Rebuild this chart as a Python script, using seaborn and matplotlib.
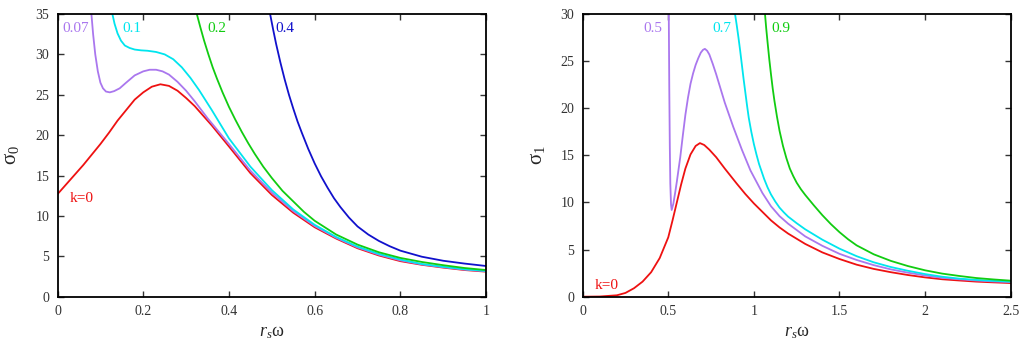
import matplotlib
matplotlib.use('Agg')
import pandas as pd
import seaborn as sns
from matplotlib import pyplot as plt

# ---- left panel: sigma_0 vs r_s*omega ----
l_k000_x = [0, 0.02, 0.04, 0.06, 0.08, 0.1, 0.12, 0.14, 0.16, 0.18, 0.2, 0.22, 0.24, 0.26, 0.28, 0.3,
            0.32, 0.34, 0.36, 0.38, 0.4, 0.45, 0.5, 0.55, 0.6, 0.65, 0.7, 0.75, 0.8, 0.85, 0.9, 0.95, 1.0]
l_k000_y = [12.7, 13.9, 15.1, 16.3, 17.6, 18.9, 20.3, 21.8, 23.1, 24.4, 25.3, 26.0, 26.3, 26.1, 25.5, 24.6,
            23.6, 22.4, 21.2, 19.9, 18.6, 15.3, 12.6, 10.4, 8.6, 7.2, 6.0, 5.1, 4.4, 3.95, 3.6, 3.3, 3.1]

l_k007_x = [0.079, 0.083, 0.088, 0.094, 0.1, 0.106, 0.113, 0.122, 0.132, 0.145, 0.16, 0.18, 0.2, 0.215,
            0.23, 0.245, 0.26, 0.28, 0.3, 0.32, 0.35, 0.4, 0.45, 0.5, 0.55, 0.6, 0.65, 0.7, 0.75, 0.8,
            0.85, 0.9, 0.95, 1.0]
l_k007_y = [35, 32.5, 30.0, 27.9, 26.5, 25.8, 25.4, 25.3, 25.45, 25.8, 26.5, 27.4, 27.9, 28.1,
            28.1, 27.9, 27.5, 26.6, 25.5, 24.2, 22.1, 18.9, 15.6, 12.9, 10.6, 8.75, 7.3, 6.1, 5.2, 4.5,
            4.0, 3.65, 3.35, 3.15]

l_k010_x = [0.128, 0.133, 0.14, 0.148, 0.157, 0.168, 0.18, 0.195, 0.21, 0.23, 0.25, 0.27, 0.29, 0.31,
            0.33, 0.36, 0.4, 0.45, 0.5, 0.55, 0.6, 0.65, 0.7, 0.75, 0.8, 0.85, 0.9, 0.95, 1.0]
l_k010_y = [35, 33.8, 32.6, 31.7, 31.1, 30.8, 30.6, 30.5, 30.45, 30.3, 30.0, 29.4, 28.4, 27.1,
            25.6, 23.1, 19.6, 16.1, 13.2, 10.8, 8.9, 7.4, 6.2, 5.3, 4.6, 4.05, 3.7, 3.4, 3.2]

l_k020_x = [0.325, 0.333, 0.342, 0.352, 0.362, 0.372, 0.385, 0.4, 0.415, 0.43, 0.445, 0.46, 0.48, 0.5,
            0.525, 0.55, 0.575, 0.6, 0.65, 0.7, 0.75, 0.8, 0.85, 0.9, 0.95, 1.0]
l_k020_y = [35, 33.4, 31.7, 30.0, 28.4, 27.0, 25.3, 23.5, 21.9, 20.4, 19.0, 17.7, 16.1, 14.7,
            13.1, 11.8, 10.5, 9.4, 7.7, 6.45, 5.5, 4.8, 4.3, 3.9, 3.55, 3.3]

l_k040_x = [0.496, 0.503, 0.51, 0.52, 0.53, 0.54, 0.55, 0.56, 0.57, 0.585, 0.6, 0.615, 0.63, 0.645, 0.66,
            0.68, 0.7, 0.725, 0.75, 0.775, 0.8, 0.85, 0.9, 0.95, 1.0]
l_k040_y = [35, 33.1, 31.3, 29.0, 26.9, 25.0, 23.3, 21.7, 20.3, 18.3, 16.5, 14.9, 13.5, 12.2, 11.1,
            9.8, 8.7, 7.7, 6.9, 6.25, 5.7, 4.95, 4.45, 4.1, 3.8]

# ---- right panel: sigma_1 vs r_s*omega ----
r_k00_x = [0, 0.1, 0.2, 0.25, 0.3, 0.35, 0.4, 0.45, 0.5, 0.525, 0.55, 0.575, 0.6, 0.63, 0.66, 0.685, 0.71,
           0.74, 0.78, 0.83, 0.9, 0.95, 1.0, 1.05, 1.1, 1.15, 1.2, 1.3, 1.4, 1.5, 1.6, 1.7, 1.8, 1.9, 2.0,
           2.1, 2.2, 2.3, 2.4, 2.5]
r_k00_y = [0, 0.02, 0.15, 0.4, 0.9, 1.6, 2.6, 4.1, 6.3, 8.1, 10.0, 11.9, 13.6, 15.1, 16.0, 16.3, 16.1,
           15.6, 14.8, 13.6, 12.0, 10.9, 9.9, 9.0, 8.1, 7.35, 6.7, 5.6, 4.7, 4.0, 3.4, 2.95, 2.6, 2.3, 2.05,
           1.85, 1.72, 1.6, 1.52, 1.45]

r_k05_x = [0.503, 0.506, 0.509, 0.512, 0.516, 0.52, 0.53, 0.54, 0.55, 0.56, 0.57, 0.585, 0.6, 0.615,
           0.63, 0.645, 0.66, 0.675, 0.69, 0.703, 0.714, 0.727, 0.74, 0.76, 0.78, 0.805, 0.83, 0.855, 0.88,
           0.93, 0.98, 1.05, 1.1, 1.15, 1.2, 1.3, 1.4, 1.5, 1.6, 1.7, 1.8, 1.9, 2.0, 2.1, 2.2, 2.3, 2.4, 2.5]
r_k05_y = [30, 22, 16, 12, 9.8, 9.2, 9.9, 11.0, 12.2, 13.5, 14.8, 17.1, 19.3, 21.1, 22.6, 23.7, 24.6,
           25.3, 25.9, 26.2, 26.3, 26.1, 25.7, 24.7, 23.6, 22.1, 20.6, 19.3, 18.0, 15.6, 13.4, 11.0, 9.6,
           8.55, 7.75, 6.4, 5.4, 4.55, 3.9, 3.35, 2.9, 2.55, 2.25, 2.0, 1.85, 1.72, 1.62, 1.55]

r_k07_x = [0.89, 0.9, 0.91, 0.92, 0.93, 0.94, 0.95, 0.96, 0.97, 0.985, 1.0, 1.015, 1.03, 1.045, 1.06,
           1.08, 1.1, 1.125, 1.15, 1.175, 1.2, 1.25, 1.3, 1.35, 1.4, 1.5, 1.6, 1.7, 1.8, 1.9, 2.0, 2.1,
           2.2, 2.3, 2.4, 2.5]
r_k07_y = [30, 28.8, 27.5, 26.1, 24.6, 23.1, 21.7, 20.3, 19.0, 17.5, 16.2, 15.1, 14.1, 13.3, 12.5,
           11.6, 10.85, 10.1, 9.45, 8.95, 8.5, 7.8, 7.15, 6.6, 6.05, 5.1, 4.3, 3.65, 3.15, 2.75, 2.4, 2.12,
           1.92, 1.78, 1.68, 1.6]

r_k09_x = [1.065, 1.072, 1.08, 1.09, 1.1, 1.11, 1.12, 1.135, 1.15, 1.17, 1.19, 1.21, 1.23, 1.25, 1.275,
           1.3, 1.35, 1.4, 1.45, 1.5, 1.55, 1.6, 1.7, 1.8, 1.9, 2.0, 2.1, 2.2, 2.3, 2.4, 2.5]
r_k09_y = [30, 28.5, 27.0, 25.2, 23.6, 22.1, 20.8, 19.1, 17.6, 16.0, 14.7, 13.6, 12.8, 12.1, 11.4,
           10.8, 9.7, 8.65, 7.7, 6.85, 6.1, 5.45, 4.5, 3.8, 3.25, 2.8, 2.45, 2.2, 1.98, 1.83, 1.7]

RED, PURPLE, CYAN, GREEN, BLUE = '#ee1111', '#aa77ee', '#00e5ee', '#11cc11', '#1111cc'

sns.set_style('ticks')
plt.rcParams['font.family'] = ['Liberation Serif', 'DejaVu Serif']
plt.rcParams['mathtext.fontset'] = 'custom'
plt.rcParams['mathtext.rm'] = 'Liberation Serif'
plt.rcParams['mathtext.it'] = 'Liberation Serif:italic'

fig = plt.figure(figsize=(10.24, 3.45), dpi=100)
axL = fig.add_axes([0.0562, 0.140, 0.4185, 0.8194])
axR = fig.add_axes([0.569, 0.140, 0.418, 0.8194])


def curve(ax, xs, ys, color):
    df = pd.DataFrame({'x': xs, 'y': ys})
    sns.lineplot(data=df, x='x', y='y', sort=False, estimator=None, color=color, lw=1.3, ax=ax)


for xs, ys, c in [(l_k000_x, l_k000_y, RED), (l_k007_x, l_k007_y, PURPLE), (l_k010_x, l_k010_y, CYAN),
                  (l_k020_x, l_k020_y, GREEN), (l_k040_x, l_k040_y, BLUE)]:
    curve(axL, xs, ys, c)
for xs, ys, c in [(r_k00_x, r_k00_y, RED), (r_k05_x, r_k05_y, PURPLE), (r_k07_x, r_k07_y, CYAN),
                  (r_k09_x, r_k09_y, GREEN)]:
    curve(axR, xs, ys, c)

axL.set_xlim(0, 1)
axL.set_ylim(0, 35)
axL.set_xticks([0, 0.2, 0.4, 0.6, 0.8, 1])
axL.set_xticklabels(['0', '0.2', '0.4', '0.6', '0.8', '1'])
axL.set_yticks(range(0, 36, 5))
axR.set_xlim(0, 2.5)
axR.set_ylim(0, 30)
axR.set_xticks([0, 0.5, 1, 1.5, 2, 2.5])
axR.set_xticklabels(['0', '0.5', '1', '1.5', '2', '2.5'])
axR.set_yticks(range(0, 31, 5))

for ax in (axL, axR):
    ax.tick_params(direction='in', top=True, right=True, length=4, width=1, labelsize=10,
                   colors='#333333', pad=6)
    for s in ax.spines.values():
        s.set_linewidth(1.3)
        s.set_color('black')
    ax.set_xlabel(r'$r_s\mathrm{\omega}$', fontsize=13, labelpad=4)

axL.set_ylabel(r'$\mathrm{\sigma}_{\mathit{0}}$', fontsize=15, labelpad=10)
axR.set_ylabel(r'$\mathrm{\sigma}_{\mathit{1}}$', fontsize=15, labelpad=10)

lab = dict(fontsize=11, va='center', ha='left')
axL.text(0.012, 33.2, '0.07', color=PURPLE, **lab)
axL.text(0.151, 33.2, '0.1', color=CYAN, **lab)
axL.text(0.349, 33.2, '0.2', color=GREEN, **lab)
axL.text(0.508, 33.2, '0.4', color=BLUE, **lab)
axL.text(0.029, 12.2, 'k=0', color=RED, **lab)
axR.text(0.352, 28.5, '0.5', color=PURPLE, **lab)
axR.text(0.755, 28.5, '0.7', color=CYAN, **lab)
axR.text(1.105, 28.5, '0.9', color=GREEN, **lab)
axR.text(0.072, 1.2, 'k=0', color=RED, **lab)

fig.savefig('out.png', dpi=100)
